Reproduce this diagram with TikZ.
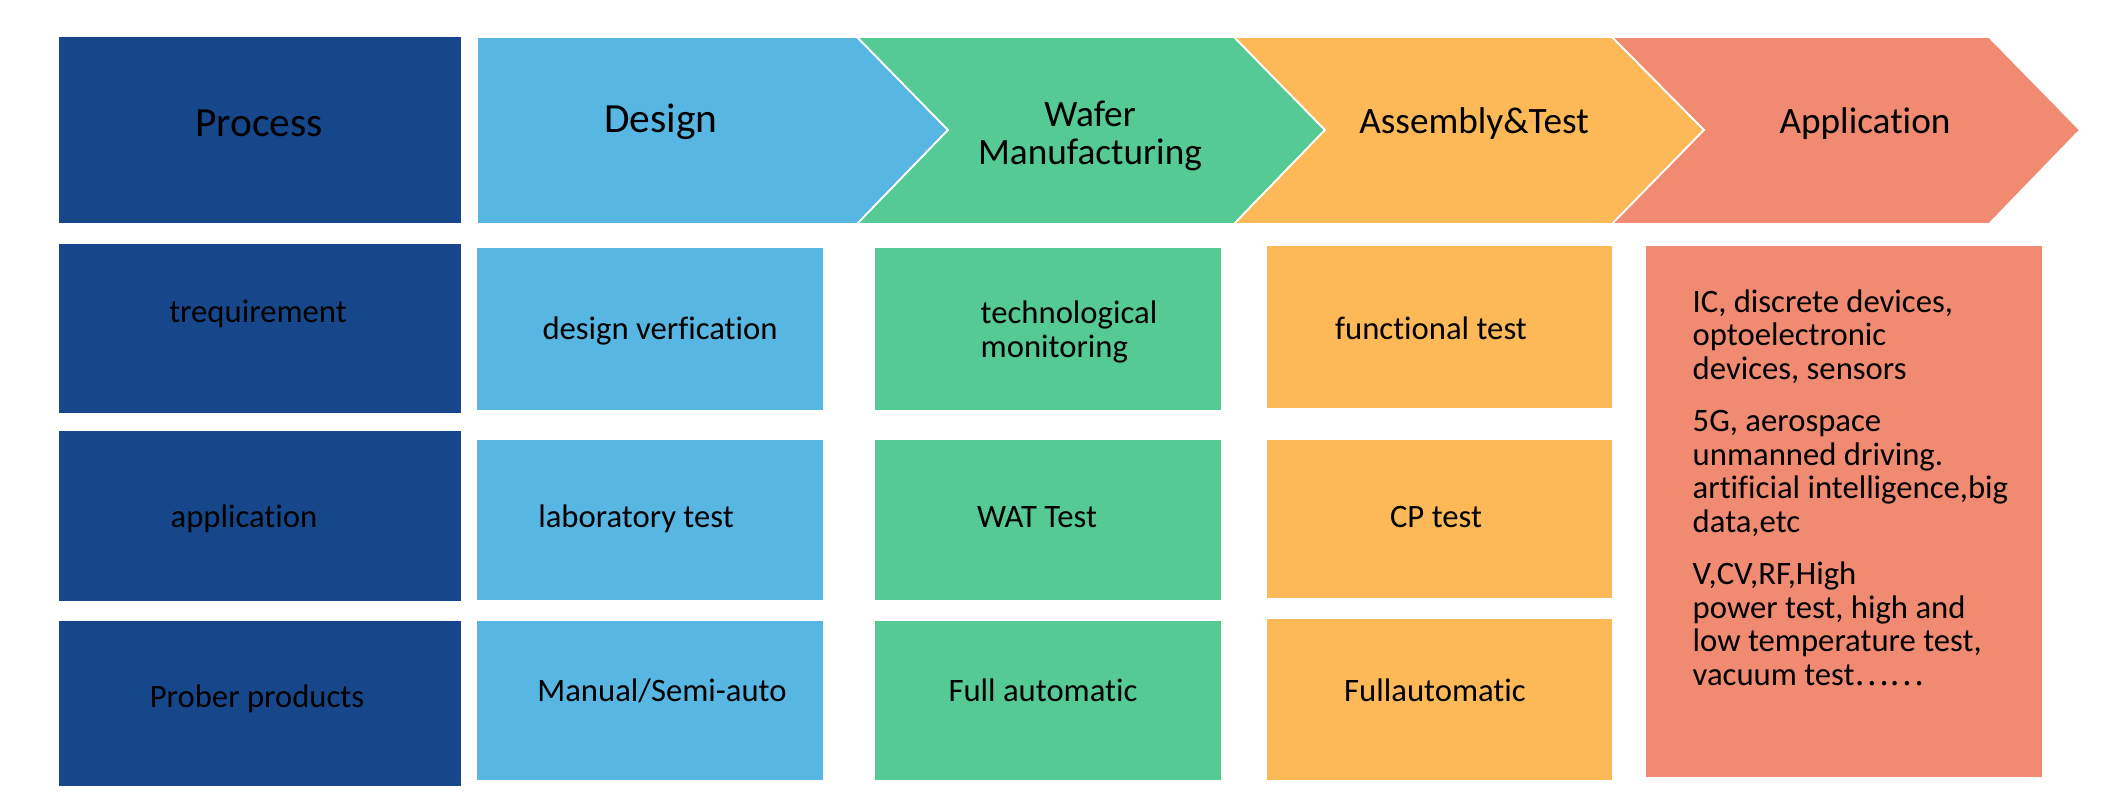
\documentclass[tikz,border=0pt]{standalone}
\usepackage{fontspec}
\setmainfont[Ligatures=NoCommon]{Carlito}
\newfontfamily\cjkdots{Noto Sans CJK SC}
\definecolor{procblue}{HTML}{17478B}
\definecolor{designblue}{HTML}{58B6E3}
\definecolor{wafergreen}{HTML}{55CA95}
\definecolor{asmorange}{HTML}{FDB858}
\definecolor{appred}{HTML}{F08A71}
\begin{document}
\begin{tikzpicture}[x=0.1mm,y=-0.1mm,
 hdr/.style={anchor=base,font=\fontsize{11.8}{12}\selectfont},
 hdrs/.style={anchor=base,font=\fontsize{10.6}{10.7}\selectfont},
 cell/.style={anchor=base,font=\fontsize{9.3}{9.6}\selectfont},
 arrowbox/.style={draw=white,line width=.5pt}]
 \useasboundingbox (0,0) rectangle (2112,808);
 % header row
 \fill[procblue] (59,37) rectangle (461,223);
 \filldraw[fill=designblue,arrowbox] (477,37)--(857,37)--(948,130)--(857,224)--(477,224)--cycle;
 \filldraw[fill=wafergreen,arrowbox] (857,37)--(1234,37)--(1325,130)--(1234,224)--(857,224)--(948,130)--cycle;
 \filldraw[fill=asmorange,arrowbox] (1234,37)--(1612,37)--(1704,130)--(1612,224)--(1234,224)--(1325,130)--cycle;
 \filldraw[fill=appred,arrowbox] (1612,37)--(1989,37)--(2080,130)--(1989,224)--(1612,224)--(1704,130)--cycle;
 \node[hdr] (process) at (259,137) {Process};
 \node[hdr] (design) at (661,133) {Design};
 \node[hdrs,anchor=north,align=center,font=\fontsize{10.6}{10.7}\selectfont] (wafer) at (1090,89) {Wafer\\Manufacturing};
 \node[hdrs] (assembly) at (1474,134) {Assembly\&Test};
 \node[hdrs] (application) at (1865,134) {Application};
 % column boxes
 \fill[procblue] (59,244) rectangle (461,413);
 \fill[procblue] (59,431) rectangle (461,601);
 \fill[procblue] (59,621) rectangle (461,786);
 \fill[designblue] (477,248) rectangle (823,410);
 \fill[designblue] (477,440) rectangle (823,600);
 \fill[designblue] (477,621) rectangle (823,780);
 \fill[wafergreen] (875,248) rectangle (1221,410);
 \fill[wafergreen] (875,440) rectangle (1221,600);
 \fill[wafergreen] (875,621) rectangle (1221,780);
 \fill[asmorange] (1267,246) rectangle (1612,408);
 \fill[asmorange] (1267,440) rectangle (1612,598);
 \fill[asmorange] (1267,619) rectangle (1612,780);
 \fill[appred] (1646,246) rectangle (2042,777);
 % cell texts
 \node[cell] (req) at (258,323) {trequirement};
 \node[cell] (app) at (244,527) {application};
 \node[cell] (prober) at (257,707) {Prober products};
 \node[cell] (verif) at (660,340) {design verfication};
 \node[cell] (lab) at (636,527) {laboratory test};
 \node[cell] (manual) at (662,701) {Manual/Semi-auto};
 \node[cell,anchor=north west,align=left,inner sep=0pt,font=\fontsize{9.3}{9.7}\selectfont] (monitor) at (980,300) {technological\\monitoring};
 \node[cell] (wat) at (1037,527) {WAT Test};
 \node[cell] (fullauto) at (1043,701) {Full automatic};
 \node[cell] (func) at (1431,340) {functional test};
 \node[cell] (cp) at (1436,527) {CP test};
 \node[cell] (fullauto2) at (1435,701) {Fullautomatic};
 \node[cell,anchor=north west,align=left,inner sep=0pt,font=\fontsize{9.3}{9.53}\selectfont] (fields) at (1692,289)
  {IC, discrete devices,\\optoelectronic\\devices, sensors\\[5.4pt]
   5G, aerospace\\unmanned driving.\\artificial intelligence,big\\data,etc\\[5.4pt]
   V,CV,RF,High\\power test, high and\\low temperature test,\\vacuum test{\cjkdots ……}};
\end{tikzpicture}
\end{document}
